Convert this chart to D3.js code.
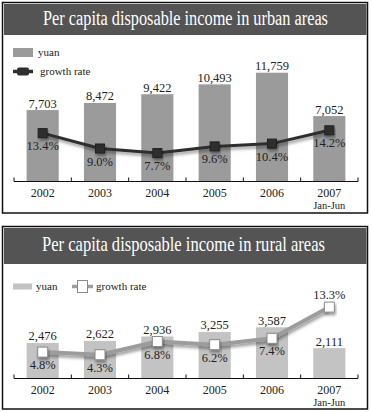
<!DOCTYPE html>
<html><head><meta charset="utf-8">
<script src="https://cdn.jsdelivr.net/npm/d3@7"></script>
<style>
body{margin:0;background:#fff}
svg{display:block}
text{font-family:"Liberation Serif","Times New Roman",serif;fill:#222}
</style>
</head><body><svg id="c" width="371" height="412"></svg>
<script>
const years = ["2002","2003","2004","2005","2006","2007"];
const yearNotes = ["","","","","","Jan-Jun"];
const urbanIncome = [7703, 8472, 9422, 10493, 11759, 7052];
const urbanGrowth = [13.4, 9.0, 7.7, 9.6, 10.4, 14.2];
const ruralIncome = [2476, 2622, 2936, 3255, 3587, 2111];
const ruralGrowth = [4.8, 4.3, 6.8, 6.2, 7.4, 13.3];
const titles = ["Per capita disposable income in urban areas", "Per capita disposable income in rural areas"];
const legendLabels = ["yuan", "growth rate"];

const svg = d3.select("#c");
const defs = svg.append("defs");
const f = defs.append("filter").attr("id","sh").attr("x","-10%").attr("y","-30%").attr("width","130%").attr("height","190%");
f.append("feDropShadow").attr("dx",1).attr("dy",2.5).attr("stdDeviation",1.8).attr("flood-color","#000").attr("flood-opacity",0.4);

const fmt = d3.format(",");
const x = d3.scaleBand().domain(years).range([14, 358]).paddingInner(0.44).paddingOuter(0.22);

const panels = [
  {title: titles[0], income: urbanIncome, growth: urbanGrowth,
   box: [2.5, 2.5, 365, 210.5], bar: [4, 4, 362.5, 31], titleBase: 25, titleW: 285, titleCx: 185.5,
   axisY: 181, yMax: 12000, yTop: 70.5, gZero: 180, gTop: 127.5,
   barColor: "#9b9b9b", lineColor: "#2e2e2e", lineW: 3, dark: true},
  {title: titles[1], income: ruralIncome, growth: ruralGrowth,
   box: [2.5, 226.5, 365, 182.5], bar: [4, 228, 362.5, 36], titleBase: 251, titleW: 283, titleCx: 183.5,
   axisY: 378, yMax: 4000, yTop: 321.4, gZero: 377.5, gTop: 298.1,
   barColor: "#c3c3c3", lineColor: "#9c9c9c", lineW: 4, dark: false}
];

panels.forEach(p => {
  const g = svg.append("g");
  g.append("rect").attr("x",p.box[0]).attr("y",p.box[1]).attr("width",p.box[2]).attr("height",p.box[3])
    .attr("fill","#fff").attr("stroke","#111").attr("stroke-width",1.5);
  g.append("rect").attr("x",p.bar[0]).attr("y",p.bar[1]).attr("width",p.bar[2]).attr("height",p.bar[3]).attr("fill","#545454");
  const tg = g.append("g").attr("transform",`translate(${p.titleCx},${p.titleBase})`);
  const tt = tg.append("text").attr("x",0).attr("y",0).attr("text-anchor","middle")
    .attr("font-size",20).style("fill","#fff").text(p.title);
  const nat = tt.node().getComputedTextLength();
  tg.attr("transform",`translate(${p.titleCx},${p.titleBase}) scale(${p.titleW/nat},1)`);

  const y = d3.scaleLinear().domain([0, p.yMax]).range([p.axisY, p.yTop]);
  const gy = d3.scaleLinear().domain([0, 15]).range([p.gZero, p.gTop]);
  const cx = i => x(years[i]) + x.bandwidth()/2;

  // bars
  g.selectAll("rect.bar").data(p.income).join("rect").attr("class","bar")
    .attr("x",(d,i)=>x(years[i])).attr("width",x.bandwidth())
    .attr("y",d=>y(d)).attr("height",d=>p.axisY - y(d)).attr("fill",p.barColor);
  g.selectAll("text.val").data(p.income).join("text").attr("class","val")
    .attr("x",(d,i)=>cx(i)).attr("y",d=>y(d)-2.5)
    .attr("text-anchor","middle").attr("font-size",12.5).text(d=>fmt(d));

  // axis
  const step = x.step();
  const x0 = x.range()[0];
  g.append("line").attr("x1",x0).attr("x2",x.range()[1]).attr("y1",p.axisY+0.5).attr("y2",p.axisY+0.5)
    .attr("stroke","#111").attr("stroke-width",1);
  g.selectAll("line.tk").data(d3.range(years.length+1)).join("line").attr("class","tk")
    .attr("x1",i=>x0+i*step).attr("x2",i=>x0+i*step).attr("y1",p.axisY+0.5).attr("y2",p.axisY-3.5)
    .attr("stroke","#111").attr("stroke-width",1);
  g.selectAll("text.yr").data(years).join("text").attr("class","yr")
    .attr("x",(d,i)=>cx(i)).attr("y",p.axisY+15.5).attr("text-anchor","middle")
    .attr("font-size",12).text(d=>d);
  g.selectAll("text.note").data(yearNotes).join("text").attr("class","note")
    .attr("x",(d,i)=>cx(i)).attr("y",p.axisY+27.5).attr("text-anchor","middle")
    .attr("font-size",10.5).text(d=>d);

  // line
  const line = d3.line().x((d,i)=>cx(i)).y(d=>gy(d));
  g.append("path").datum(p.growth).attr("d",line).attr("fill","none")
    .attr("stroke",p.lineColor).attr("stroke-width",p.lineW).attr("stroke-linejoin","round")
    .attr("filter","url(#sh)");
  const ms = p.dark ? 9 : 10;
  g.selectAll("rect.mk").data(p.growth).join("rect").attr("class","mk")
    .attr("x",(d,i)=>cx(i)-ms/2).attr("y",d=>gy(d)-ms/2)
    .attr("width",ms).attr("height",ms)
    .attr("fill",p.dark?"#2e2e2e":"#fff")
    .attr("stroke",p.dark?"#222":"#8a8a8a").attr("stroke-width",1)
    .attr("filter","url(#sh)");
  g.selectAll("text.gr").data(p.growth).join("text").attr("class","gr")
    .attr("x",(d,i)=>cx(i))
    .attr("y",(d,i)=> gy(d) < y(p.income[i]) - 10 ? gy(d)-8 : gy(d)+17)
    .attr("text-anchor","middle").attr("font-size",12.5).text(d=>d.toFixed(1)+"%");

  // legend
  const lg = g.append("g");
  if (p.dark) {
    lg.append("rect").attr("x",13).attr("y",48).attr("width",20).attr("height",9).attr("fill",p.barColor);
    lg.append("text").attr("x",38).attr("y",56).attr("font-size",11).text(legendLabels[0]);
    lg.append("line").attr("x1",13).attr("x2",33).attr("y1",71.5).attr("y2",71.5).attr("stroke",p.lineColor).attr("stroke-width",3.5);
    lg.append("rect").attr("x",17).attr("y",67.5).attr("width",12).attr("height",8).attr("rx",2).attr("fill",p.lineColor);
    lg.append("text").attr("x",40).attr("y",75).attr("font-size",11).text(legendLabels[1]);
  } else {
    lg.append("rect").attr("x",13).attr("y",283.5).attr("width",19).attr("height",6).attr("fill",p.barColor);
    lg.append("text").attr("x",36).attr("y",289.5).attr("font-size",11).text(legendLabels[0]);
    lg.append("line").attr("x1",72).attr("x2",93).attr("y1",286.5).attr("y2",286.5).attr("stroke",p.lineColor).attr("stroke-width",3.5);
    lg.append("rect").attr("x",77.5).attr("y",280.5).attr("width",10).attr("height",12).attr("fill","#fff").attr("stroke","#8a8a8a");
    lg.append("text").attr("x",96).attr("y",289.5).attr("font-size",11).text(legendLabels[1]);
  }
});
</script>
</body></html>
